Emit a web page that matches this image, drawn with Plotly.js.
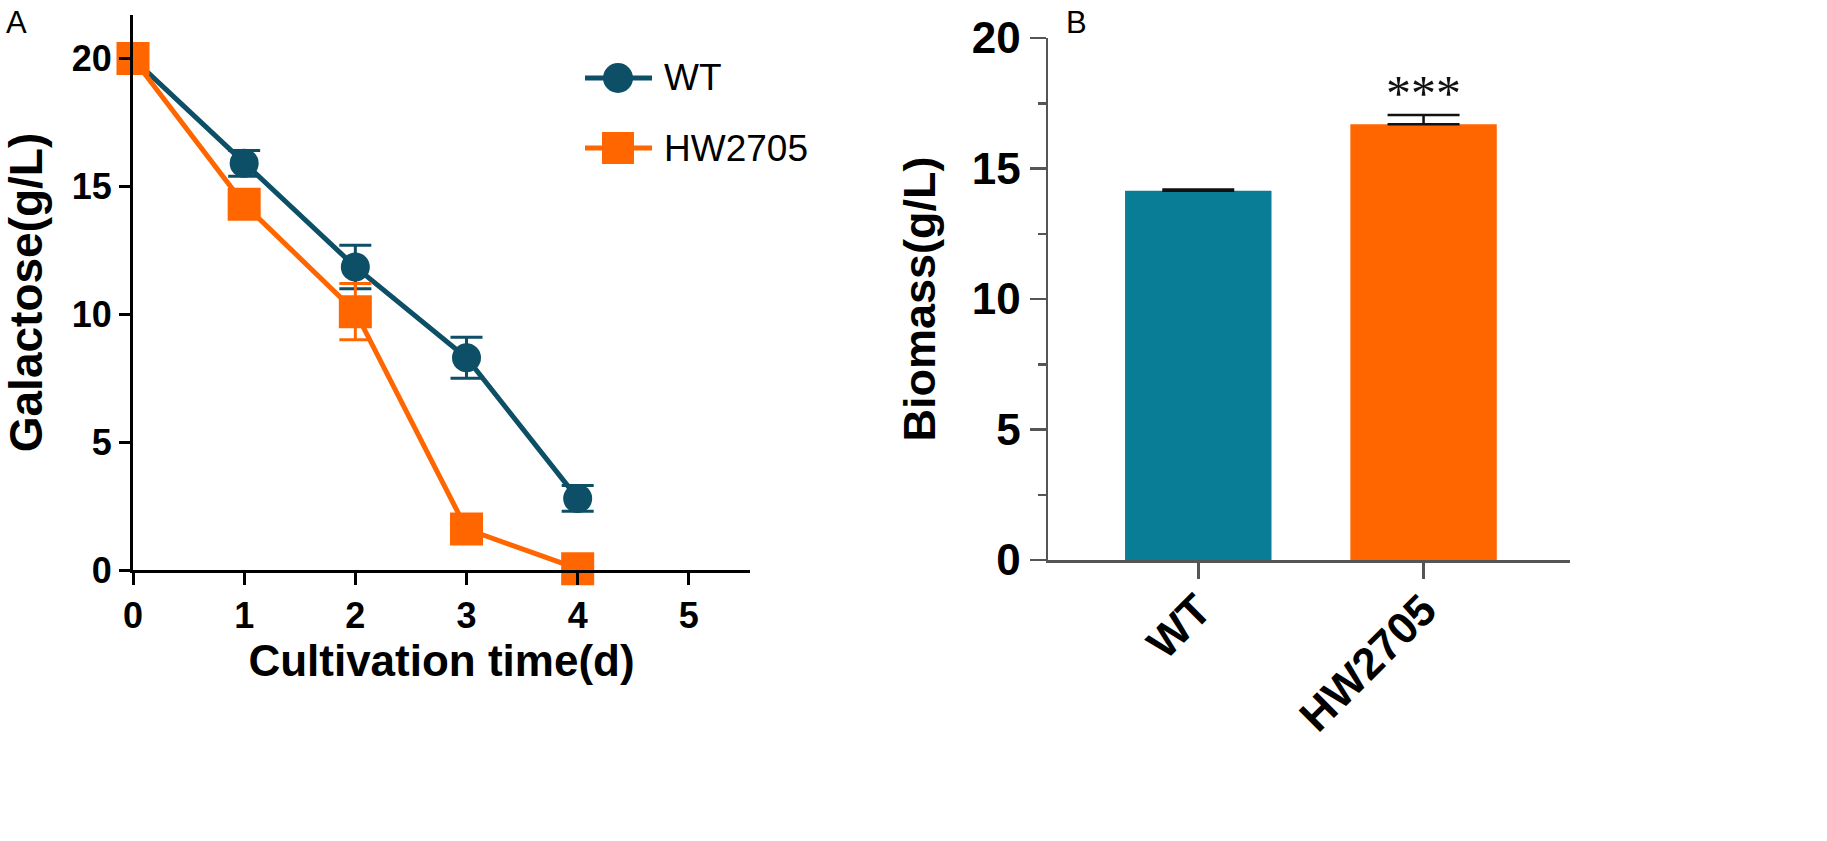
<!DOCTYPE html>
<html>
<head>
<meta charset="utf-8">
<script src="https://cdn.plot.ly/plotly-3.0.1.min.js"></script>
<style>
  html, body { margin: 0; padding: 0; background: #fff; }
  #chart { width: 1827px; height: 841px; }
</style>
</head>
<body>
<div id="chart"></div>
<script>
// panel A: galactose consumption
const days = [0, 1, 2, 3, 4];
const wtGal = [20, 15.9, 11.85, 8.3, 2.8];
const wtGalErr = [0, 0.5, 0.85, 0.8, 0.5];
const hwGal = [20, 14.3, 10.1, 1.6, 0.05];
const hwGalErr = [0, 0.3, 1.1, 0.4, 0];
const seriesNames = ['WT', 'HW2705'];

// panel B: biomass
const strains = ['WT', 'HW2705'];
const biomass = [14.15, 16.7];
const biomassErr = [0.05, 0.35];
const sigMark = ['', '***'];

const tealDark = '#0c4f66';
const teal = '#097d96';
const orange = '#ff6600';
const FONT = 'Liberation Sans, Arial, sans-serif';
const W = 1827, H = 841;
const px = v => v / W;          // pixel -> paper x
const py = v => 1 - v / H;      // pixel (from top) -> paper y

const traces = [
  {
    x: days, y: wtGal, name: seriesNames[0], type: 'scatter', mode: 'lines+markers',
    line: { color: tealDark, width: 5 },
    marker: { symbol: 'circle', size: 29, color: tealDark },
    error_y: { type: 'data', array: wtGalErr, color: tealDark, thickness: 3, width: 16 },
    cliponaxis: false, showlegend: false, xaxis: 'x', yaxis: 'y'
  },
  {
    x: days, y: hwGal, name: seriesNames[1], type: 'scatter', mode: 'lines+markers',
    line: { color: orange, width: 5 },
    marker: { symbol: 'square', size: 33, color: orange },
    error_y: { type: 'data', array: hwGalErr, color: orange, thickness: 3, width: 16 },
    cliponaxis: false, showlegend: false, xaxis: 'x', yaxis: 'y'
  },
  {
    x: strains, y: biomass, type: 'bar', showlegend: false,
    marker: { color: [teal, orange] },
    width: 0.65,
    error_y: { type: 'data', array: biomassErr, arrayminus: [0, 0], color: '#111', thickness: 2.5, width: 36 },
    xaxis: 'x2', yaxis: 'y2'
  }
];

// legend keys drawn by hand so the symbols keep the plot's size
const shapes = [];
const annotations = [];
const legendRows = [
  { name: seriesNames[0], color: tealDark, symbol: 'circle', y: 78 },
  { name: seriesNames[1], color: orange, symbol: 'rect', y: 148 }
];
legendRows.forEach(r => {
  shapes.push({ type: 'line', xref: 'paper', yref: 'paper', x0: px(585), x1: px(652), y0: py(r.y), y1: py(r.y),
    line: { color: r.color, width: 5 } });
  const half = r.symbol === 'circle' ? 15 : 16;
  shapes.push({ type: r.symbol, xref: 'paper', yref: 'paper',
    xsizemode: 'pixel', ysizemode: 'pixel', xanchor: px(618), yanchor: py(r.y),
    x0: -half, x1: half, y0: -half, y1: half,
    fillcolor: r.color, line: { width: 0 } });
  annotations.push({ text: r.name, xref: 'paper', yref: 'paper', x: px(662), y: py(r.y),
    xanchor: 'left', yanchor: 'middle', showarrow: false,
    font: { family: FONT, size: 37, color: '#000' } });
});

annotations.push(
  { text: 'A', xref: 'paper', yref: 'paper', x: px(4), y: py(3), xanchor: 'left', yanchor: 'top',
    showarrow: false, font: { family: FONT, size: 31, color: '#000' } },
  { text: 'B', xref: 'paper', yref: 'paper', x: px(1064), y: py(3), xanchor: 'left', yanchor: 'top',
    showarrow: false, font: { family: FONT, size: 31, color: '#000' } }
);
strains.forEach((s, i) => {
  if (!sigMark[i]) return;
  annotations.push({
    text: sigMark[i], xref: 'x2', yref: 'y2', x: s, y: biomass[i] + biomassErr[i] - 0.3,
    yanchor: 'bottom', showarrow: false,
    font: { family: 'Liberation Serif, serif', size: 50, color: '#111' }
  });
});

const layout = {
  width: W, height: H,
  margin: { l: 0, r: 0, t: 0, b: 0 },
  paper_bgcolor: '#fff', plot_bgcolor: '#fff',
  font: { family: FONT, color: '#000' },
  showlegend: false,
  xaxis: {
    domain: [px(133), px(750)], anchor: 'y',
    range: [0, 5.55], tickvals: [0, 1, 2, 3, 4, 5],
    showline: true, linecolor: '#000', linewidth: 3,
    ticks: 'outside', ticklen: 12, tickwidth: 3, tickcolor: '#000',
    showgrid: false, zeroline: false,
    tickfont: { family: FONT, size: 36, weight: 'bold' },
    title: { text: 'Cultivation time(d)', font: { family: FONT, size: 44, weight: 'bold' }, standoff: 8 }
  },
  yaxis: {
    domain: [py(570), py(15)], anchor: 'x',
    range: [0, 21.7], tickvals: [0, 5, 10, 15, 20],
    showline: true, linecolor: '#000', linewidth: 3,
    ticks: 'outside', ticklen: 11, tickwidth: 3, tickcolor: '#000',
    showgrid: false, zeroline: false,
    tickfont: { family: FONT, size: 36, weight: 'bold' },
    title: { text: 'Galactose(g/L)', font: { family: FONT, size: 46, weight: 'bold' }, standoff: 18 }
  },
  xaxis2: {
    domain: [px(1048), px(1570)], anchor: 'y2',
    range: [-0.667, 1.65],
    showline: true, linecolor: '#555', linewidth: 2.5,
    ticks: 'outside', ticklen: 16, tickwidth: 2.5, tickcolor: '#555',
    showgrid: false, zeroline: false, tickangle: -45,
    ticklabelstandoff: -12,
    tickfont: { family: FONT, size: 44, weight: 'bold' }
  },
  yaxis2: {
    domain: [py(560), py(38)], anchor: 'x2',
    range: [0, 20], tickvals: [0, 5, 10, 15, 20],
    showline: true, linecolor: '#555', linewidth: 2.5,
    ticks: 'outside', ticklen: 16, tickwidth: 2.5, tickcolor: '#555',
    minor: { dtick: 2.5, ticks: 'outside', ticklen: 8, tickwidth: 2.5, tickcolor: '#555' },
    showgrid: false, zeroline: false,
    tickfont: { family: FONT, size: 44, weight: 'bold' },
    title: { text: 'Biomass(g/L)', font: { family: FONT, size: 45, weight: 'bold' }, standoff: 22 }
  },
  shapes: shapes,
  annotations: annotations
};

Plotly.newPlot('chart', traces, layout, { displayModeBar: false, staticPlot: true });
</script>
</body>
</html>
